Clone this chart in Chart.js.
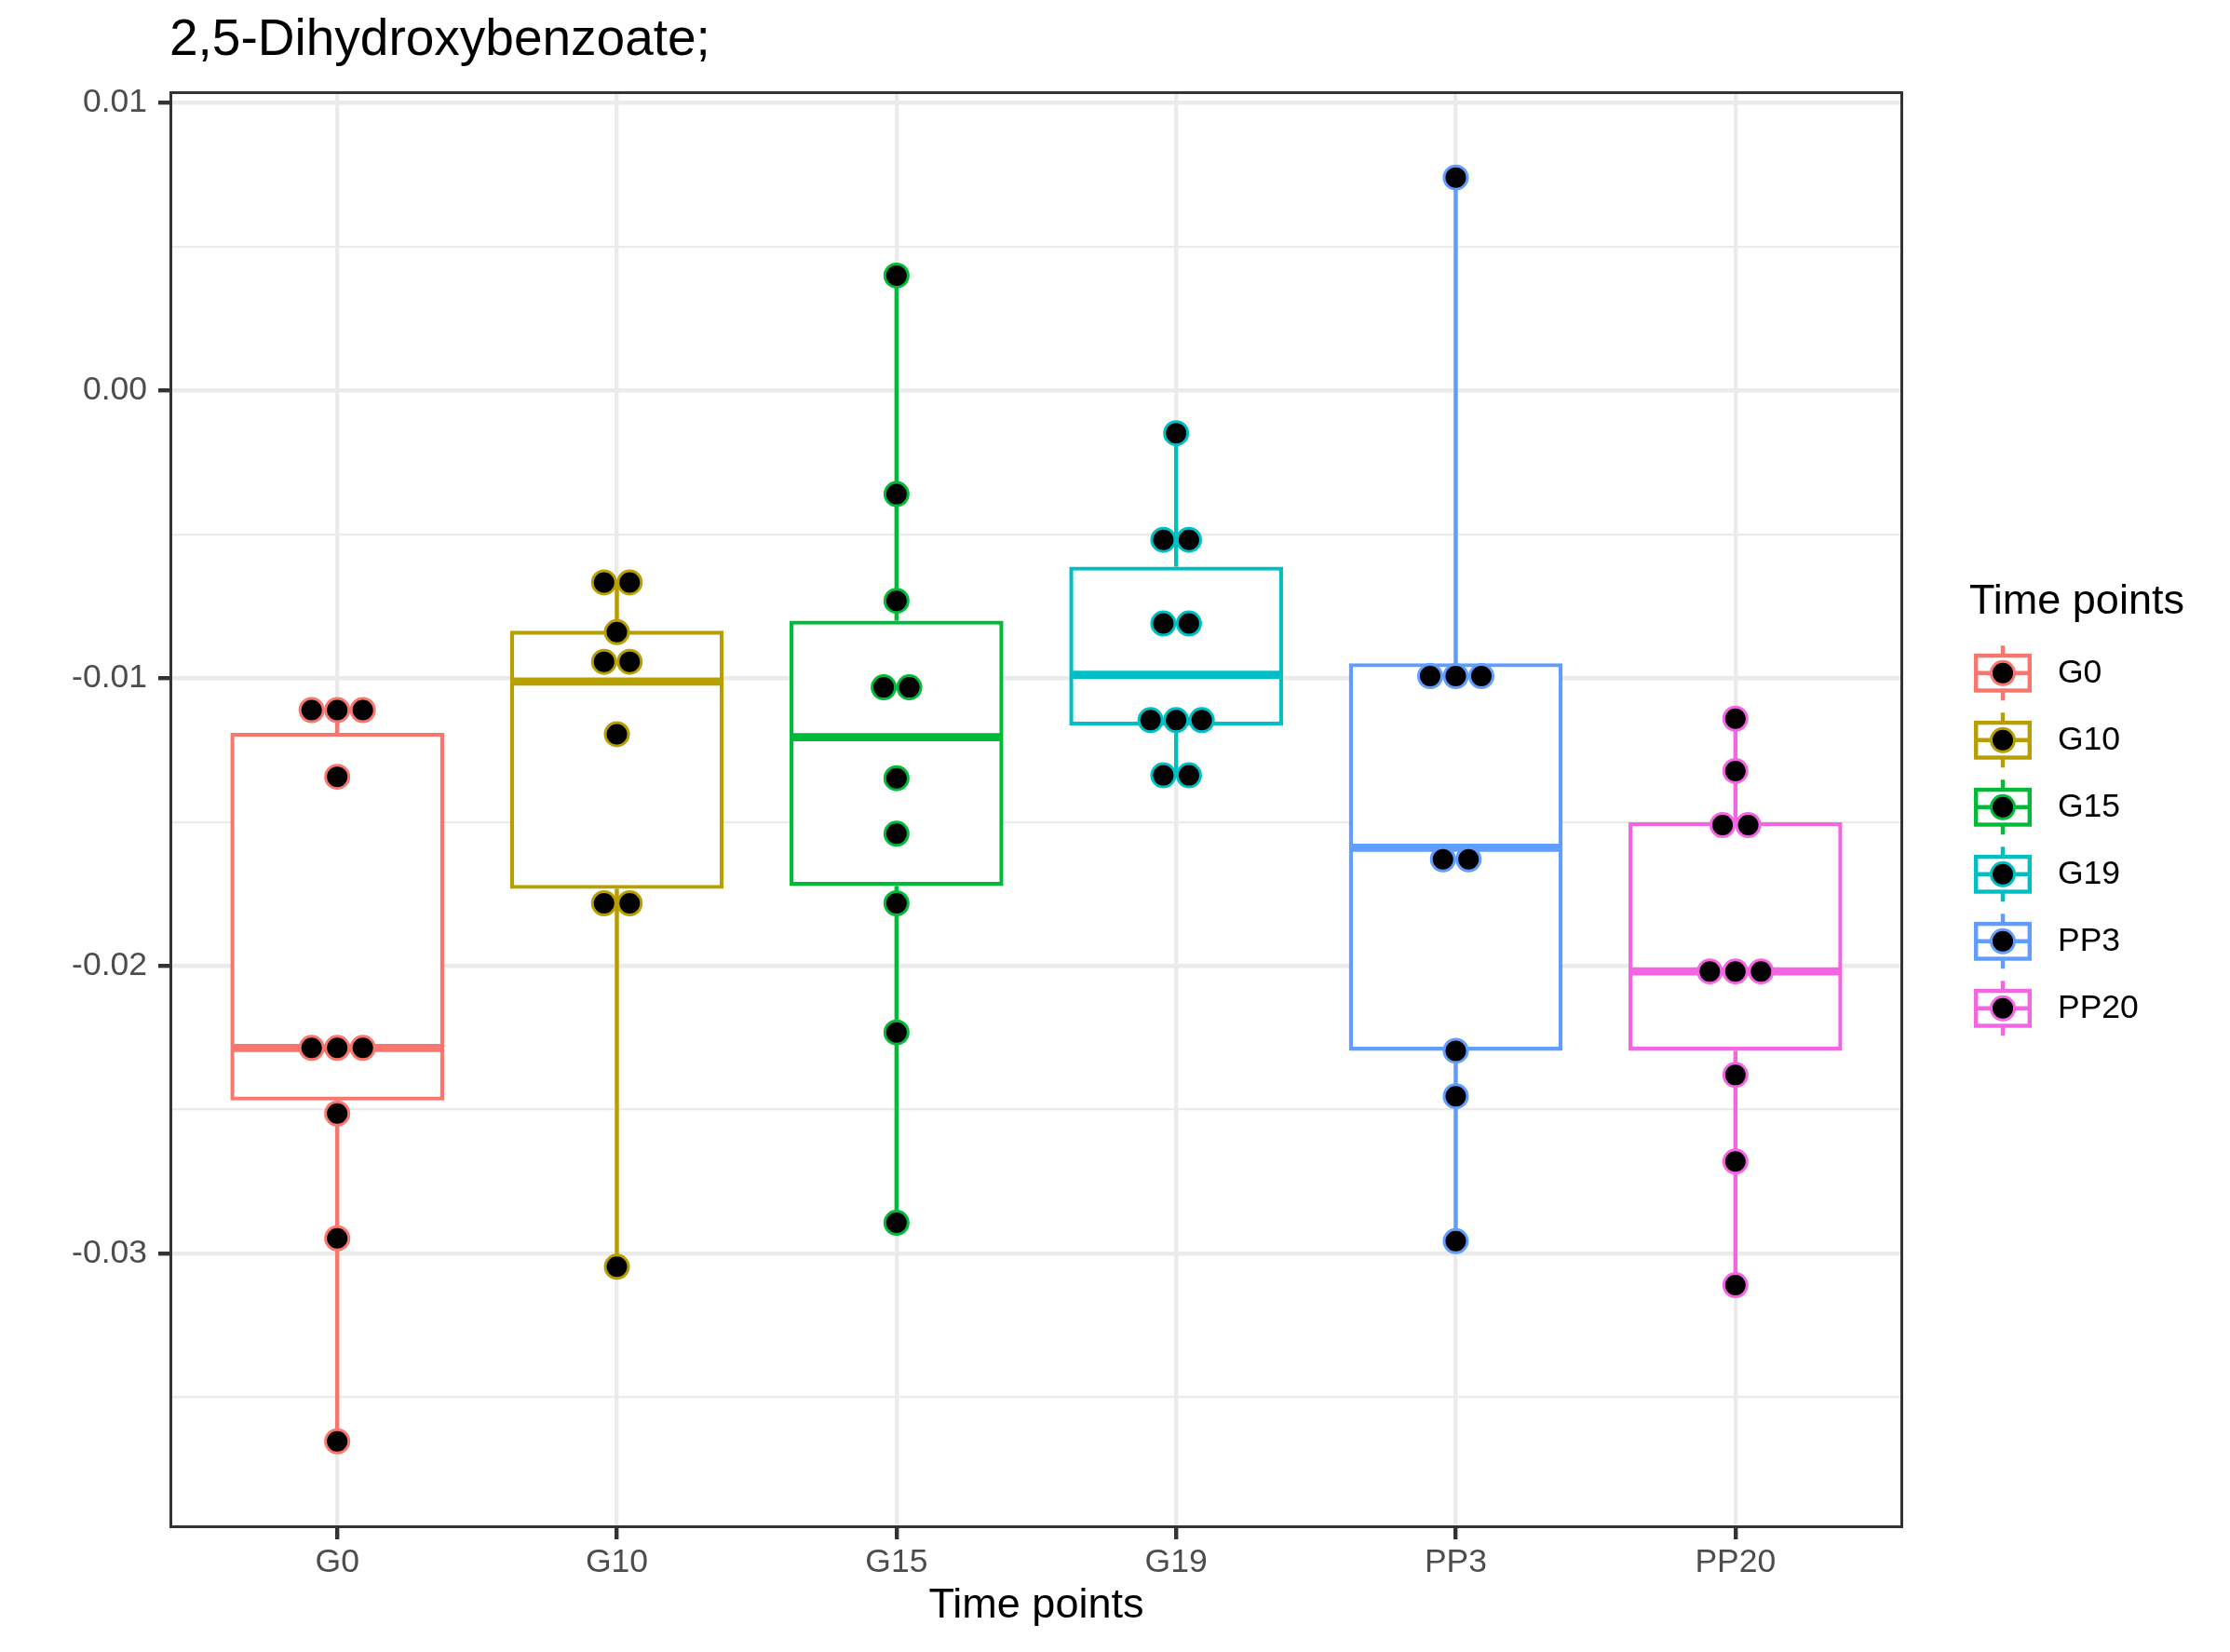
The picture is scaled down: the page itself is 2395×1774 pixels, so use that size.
<!DOCTYPE html>
<html>
<head>
<meta charset="utf-8">
<script src="https://cdn.jsdelivr.net/npm/chart.js@4.4.0/dist/chart.umd.min.js"></script>
<style>
  html, body { margin: 0; padding: 0; background: #fff; }
</style>
</head>
<body>
<canvas id="chart" width="2395" height="1774"></canvas>
<script>
const categories = ['G0', 'G10', 'G15', 'G19', 'PP3', 'PP20'];
const groupColors = ['#F8766D', '#B79F00', '#00BA38', '#00BFC4', '#619CFF', '#F564E3'];

// boxplot statistics per time point
const whiskerLow = [-0.03654, -0.03047, -0.02894, -0.01338, -0.02958, -0.03111];
const lowerQuartile = [-0.02469, -0.01733, -0.01723, -0.01165, -0.02296, -0.02296];
const medians = [-0.02286, -0.01012, -0.01205, -0.00988, -0.01590, -0.02020];
const upperQuartile = [-0.01190, -0.00835, -0.00800, -0.00612, -0.00948, -0.01501];
const whiskerHigh = [-0.01111, -0.00667, 0.00400, -0.00148, 0.00741, -0.01141];

// dot plot values (stacked dots share the same value)
const dotsG0 = [-0.01111, -0.01111, -0.01111, -0.01343, -0.02286, -0.02286, -0.02286, -0.02514, -0.02948, -0.03654];
const dotsG10 = [-0.00667, -0.00667, -0.00840, -0.00943, -0.00943, -0.01195, -0.01783, -0.01783, -0.03047];
const dotsG15 = [0.00400, -0.00360, -0.00731, -0.01032, -0.01032, -0.01348, -0.01541, -0.01783, -0.02232, -0.02894];
const dotsG19 = [-0.00148, -0.00519, -0.00519, -0.00810, -0.00810, -0.01146, -0.01146, -0.01146, -0.01338, -0.01338];
const dotsPP3 = [0.00741, -0.00993, -0.00993, -0.00993, -0.01630, -0.01630, -0.02296, -0.02454, -0.02958];
const dotsPP20 = [-0.01141, -0.01323, -0.01511, -0.01511, -0.02020, -0.02020, -0.02020, -0.02380, -0.02681, -0.03111];
const dotValues = [dotsG0, dotsG10, dotsG15, dotsG19, dotsPP3, dotsPP20];

// axis ticks
const yMajorTicks = [-0.03, -0.02, -0.01, 0.00, 0.01];
const yMinorTicks = [-0.035, -0.025, -0.015, -0.005, 0.005];
const yMin = -0.03956;
const yMax = 0.01041;

const FONT = "'Liberation Sans', Arial, Helvetica, sans-serif";
const BOX_WIDTH = 0.75;      // in category units
const DOT_STEP = 0.0916;     // horizontal spacing of stacked dots, category units
const LINE_W = 4.4;
const PX_PER_CAT = (2044 - 182) / 6.2;

const isMajor = v => yMajorTicks.some(t => Math.abs(t - v) < 1e-9);

// stack equal values side by side, centred on the category
function stackDots(values, idx) {
  const counts = {};
  values.forEach(v => { counts[v] = (counts[v] || 0) + 1; });
  const seen = {};
  return values.map(v => {
    const k = seen[v] || 0;
    seen[v] = k + 1;
    return { x: idx + (k - (counts[v] - 1) / 2) * DOT_STEP, y: v };
  });
}

const datasets = [];

categories.forEach((c, i) => {
  datasets.push({
    type: 'line',
    label: c + ' whiskers',
    data: [
      { x: i, y: whiskerHigh[i] }, { x: i, y: upperQuartile[i] }, { x: i, y: null },
      { x: i, y: lowerQuartile[i] }, { x: i, y: whiskerLow[i] }
    ],
    borderColor: groupColors[i],
    borderWidth: LINE_W,
    pointRadius: 0,
    spanGaps: false,
    order: 3
  });
});

datasets.push({
  type: 'bar',
  label: 'boxes',
  data: categories.map((c, i) => ({ x: i, y: [lowerQuartile[i], upperQuartile[i]] })),
  backgroundColor: '#ffffff',
  borderColor: groupColors,
  borderWidth: LINE_W,
  borderSkipped: false,
  inflateAmount: 0,
  barThickness: BOX_WIDTH * PX_PER_CAT + LINE_W,
  order: 2
});

categories.forEach((c, i) => {
  datasets.push({
    type: 'line',
    label: c + ' median',
    data: [{ x: i - BOX_WIDTH / 2, y: medians[i] }, { x: i + BOX_WIDTH / 2, y: medians[i] }],
    borderColor: groupColors[i],
    borderWidth: LINE_W * 2,
    borderCapStyle: 'butt',
    pointRadius: 0,
    order: 1
  });
});

categories.forEach((c, i) => {
  datasets.push({
    type: 'scatter',
    label: c,
    data: stackDots(dotValues[i], i),
    backgroundColor: '#000000',
    borderColor: groupColors[i],
    borderWidth: 3,
    pointRadius: 12.5,
    pointHoverRadius: 12.5,
    order: 0
  });
});

// panel border on top of the marks
const panelBorder = {
  id: 'panelBorder',
  afterDatasetsDraw(chart) {
    const { ctx, chartArea: a } = chart;
    ctx.save();
    ctx.strokeStyle = '#333333';
    ctx.lineWidth = 3;
    ctx.strokeRect(a.left + 1.5, a.top + 1.5, a.width - 3, a.height - 3);
    ctx.restore();
  }
};

// ggplot-style legend with boxplot keys
const ggLegend = {
  id: 'ggLegend',
  afterDraw(chart) {
    const ctx = chart.ctx;
    const left = 2115, firstTop = 686.8, key = 72, step = 72;
    ctx.save();
    ctx.fillStyle = '#000';
    ctx.font = '45px ' + FONT;
    ctx.textAlign = 'left';
    ctx.textBaseline = 'alphabetic';
    ctx.fillText('Time points', left, 659);
    categories.forEach((c, i) => {
      const cy = firstTop + i * step + key / 2;
      const cx = left + key / 2;
      ctx.strokeStyle = groupColors[i];
      ctx.lineWidth = LINE_W;
      ctx.beginPath();
      ctx.moveTo(cx, cy - key * 0.41); ctx.lineTo(cx, cy - key * 0.26);
      ctx.moveTo(cx, cy + key * 0.26); ctx.lineTo(cx, cy + key * 0.41);
      ctx.stroke();
      ctx.fillStyle = '#fff';
      ctx.fillRect(left + key * 0.1, cy - key * 0.26, key * 0.8, key * 0.52);
      ctx.strokeRect(left + key * 0.1, cy - key * 0.26, key * 0.8, key * 0.52);
      ctx.beginPath();
      ctx.moveTo(left + key * 0.1, cy); ctx.lineTo(left + key * 0.9, cy);
      ctx.stroke();
      ctx.beginPath();
      ctx.arc(cx, cy, 12.5, 0, Math.PI * 2);
      ctx.fillStyle = '#000';
      ctx.fill();
      ctx.lineWidth = 3;
      ctx.stroke();
      ctx.fillStyle = '#000';
      ctx.font = '35.5px ' + FONT;
      ctx.textBaseline = 'middle';
      ctx.fillText(c, 2210, cy);
      ctx.textBaseline = 'alphabetic';
    });
    ctx.restore();
  }
};

Chart.defaults.font.family = FONT;

new Chart(document.getElementById('chart'), {
  type: 'scatter',
  data: { datasets },
  plugins: [panelBorder, ggLegend],
  options: {
    responsive: false,
    animation: false,
    events: [],
    layout: { padding: { left: 0, right: 351, top: 0, bottom: 0 } },
    plugins: {
      legend: { display: false },
      tooltip: { enabled: false },
      title: {
        display: true,
        text: '2,5-Dihydroxybenzoate;',
        align: 'start',
        fullSize: false,
        color: '#000',
        font: { size: 55, weight: 'normal', family: FONT },
        padding: { top: 11, bottom: 21 }
      }
    },
    scales: {
      x: {
        type: 'linear',
        min: -0.6,
        max: 5.6,
        offset: false,
        afterBuildTicks: s => { s.ticks = categories.map((c, i) => ({ value: i })); },
        afterFit: s => { s.height = 133; },
        ticks: {
          callback: v => categories[v],
          color: '#4D4D4D',
          font: { size: 35.5 },
          padding: 4,
          autoSkip: false,
          maxRotation: 0
        },
        grid: {
          offset: false,
          color: '#EBEBEB',
          lineWidth: LINE_W,
          tickColor: '#333333',
          tickWidth: LINE_W,
          tickLength: 12
        },
        border: { display: false },
        title: {
          display: true,
          text: 'Time points',
          color: '#000',
          font: { size: 45 },
          padding: { top: 0, bottom: 22 }
        }
      },
      y: {
        type: 'linear',
        min: yMin,
        max: yMax,
        afterBuildTicks: s => {
          s.ticks = yMajorTicks.concat(yMinorTicks).sort((a, b) => a - b).map(v => ({ value: v }));
        },
        afterFit: s => { s.width = 182; },
        ticks: {
          callback: v => (isMajor(v) ? v.toFixed(2) : ''),
          color: '#4D4D4D',
          font: { size: 35.5 },
          padding: 12,
          autoSkip: false
        },
        grid: {
          color: '#EBEBEB',
          lineWidth: ctx => (ctx.tick && isMajor(ctx.tick.value) ? LINE_W : LINE_W / 2),
          tickColor: ctx => (ctx.tick && isMajor(ctx.tick.value) ? '#333333' : 'rgba(0,0,0,0)'),
          tickWidth: LINE_W,
          tickLength: 12
        },
        border: { display: false }
      }
    }
  }
});
</script>
</body>
</html>
